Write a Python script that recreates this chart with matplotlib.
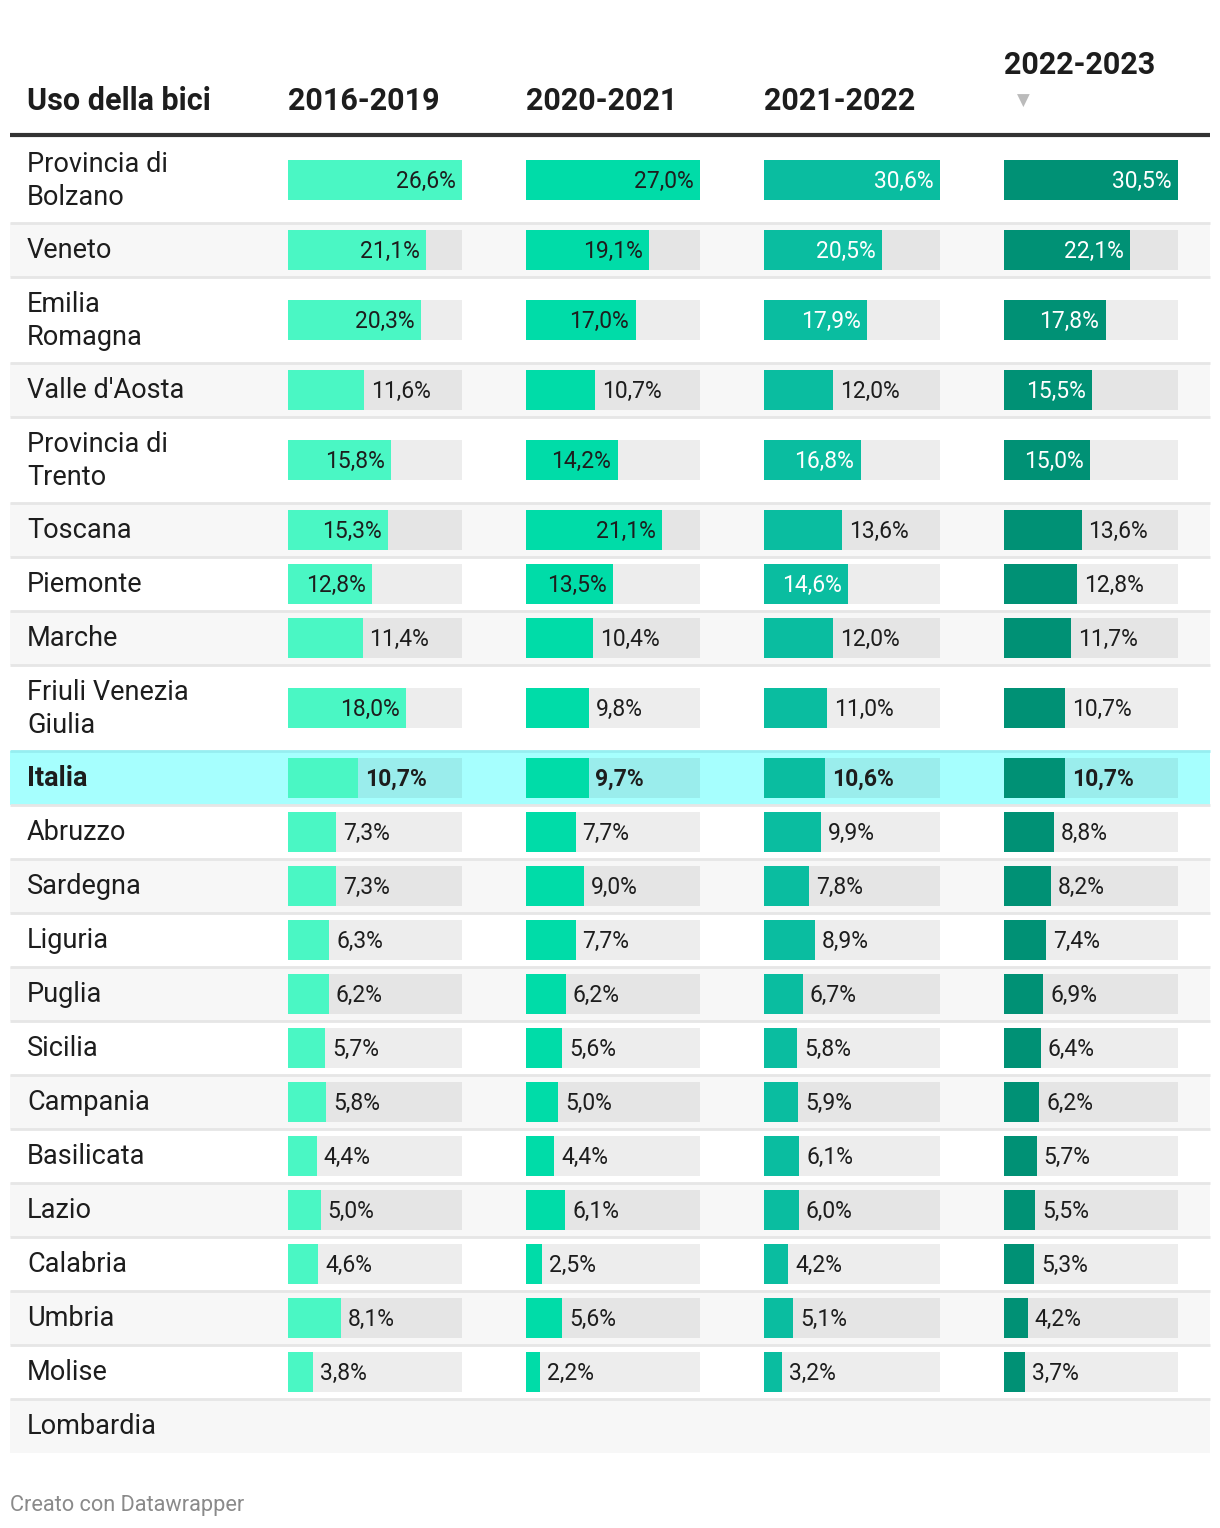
import numpy as np
import matplotlib.pyplot as plt

plt.rcParams['font.family'] = ['Roboto', 'DejaVu Sans']

# data
regions = ['Provincia di\nBolzano', 'Veneto', 'Emilia\nRomagna', "Valle d'Aosta",
           'Provincia di\nTrento', 'Toscana', 'Piemonte', 'Marche',
           'Friuli Venezia\nGiulia', 'Italia', 'Abruzzo', 'Sardegna', 'Liguria',
           'Puglia', 'Sicilia', 'Campania', 'Basilicata', 'Lazio', 'Calabria',
           'Umbria', 'Molise', 'Lombardia']
periods = ['2016-2019', '2020-2021', '2021-2022', '2022-2023']
v_2016_2019 = [26.6, 21.1, 20.3, 11.6, 15.8, 15.3, 12.8, 11.4, 18.0, 10.7, 7.3, 7.3,
               6.3, 6.2, 5.7, 5.8, 4.4, 5.0, 4.6, 8.1, 3.8, np.nan]
v_2020_2021 = [27.0, 19.1, 17.0, 10.7, 14.2, 21.1, 13.5, 10.4, 9.8, 9.7, 7.7, 9.0,
               7.7, 6.2, 5.6, 5.0, 4.4, 6.1, 2.5, 5.6, 2.2, np.nan]
v_2021_2022 = [30.6, 20.5, 17.9, 12.0, 16.8, 13.6, 14.6, 12.0, 11.0, 10.6, 9.9, 7.8,
               8.9, 6.7, 5.8, 5.9, 6.1, 6.0, 4.2, 5.1, 3.2, np.nan]
v_2022_2023 = [30.5, 22.1, 17.8, 15.5, 15.0, 13.6, 12.8, 11.7, 10.7, 10.7, 8.8, 8.2,
               7.4, 6.9, 6.4, 6.2, 5.7, 5.5, 5.3, 4.2, 3.7, np.nan]
columns = [v_2016_2019, v_2020_2021, v_2021_2022, v_2022_2023]
highlight = 'Italia'

colors = ['#4af7c4', '#00dca8', '#0abda0', '#009175']
inside_text = ['#1d1d1d', '#1d1d1d', 'white', 'white']
dark = '#1d1d1d'

W, H = 1220, 1528
fig = plt.figure(figsize=(W / 100, H / 100), dpi=100)
ax = fig.add_axes([0, 0, 1, 1])
ax.set_xlim(0, W)
ax.set_ylim(H, 0)
ax.axis('off')

# row layout (pixels)
top = 137
heights = [86 if '\n' in r else 54 for r in regions]
edges = top + np.concatenate([[0], np.cumsum(heights)])
centers = (edges[:-1] + edges[1:]) / 2

for i, r in enumerate(regions):
    bg = '#f7f7f7' if i % 2 else 'white'
    if r == highlight:
        bg = '#a6fffe'
    ax.fill_between([10, 1210], edges[i], edges[i + 1], color=bg, lw=0, zorder=0)
    if i > 0:
        lc = '#96eef0' if r == highlight else '#e6e6e6'
        ax.plot([10, 1210], [edges[i], edges[i]], color=lc, lw=2, zorder=1,
                solid_capstyle='butt')
    ax.text(27, centers[i] + 1, r, fontsize=19.5, color=dark, va='center', ha='left',
            linespacing=1.3, fontweight='bold' if r == highlight else 'normal')

# header
ax.plot([10, 1210], [135, 135], color='#333333', lw=3, zorder=2, solid_capstyle='butt')
ax.text(27, 101, 'Uso della bici', fontsize=22, fontweight='bold', color=dark, va='center')
col_x = [288, 526, 764, 1004]
for k, p in enumerate(periods):
    y = 65 if k == 3 else 101
    ax.text(col_x[k], y, p, fontsize=22, fontweight='bold', color=dark, va='center')
ax.text(1023, 101, '\u25bc', fontsize=12, color='#bbbbbb', ha='center', va='center',
        family='DejaVu Sans')

# bar columns
bar_ws = [174, 174, 176, 174]
for k, vals in enumerate(columns):
    bar_w = bar_ws[k]
    cax = fig.add_axes([col_x[k] / W, 0, bar_w / W, 1])
    vmax = np.nanmax(vals)
    cax.set_xlim(0, vmax)
    cax.set_ylim(H, 0)
    cax.axis('off')
    cax.patch.set_alpha(0)
    for i, v in enumerate(vals):
        if np.isnan(v):
            continue
        cax.barh(centers[i], vmax, height=40, color='black', alpha=0.07, lw=0)
        cax.barh(centers[i], v, height=40, color=colors[k], lw=0)
        lab = f'{v:.1f}'.replace('.', ',') + '%'
        bold = regions[i] == highlight
        if v / vmax * bar_w > 80:
            cax.annotate(lab, (v, centers[i] + 1), xytext=(-4.5, 0), textcoords='offset points',
                         ha='right', va='center', fontsize=16.5, color=inside_text[k],
                         fontweight='bold' if bold else 'normal')
        else:
            cax.annotate(lab, (v, centers[i] + 1), xytext=(5, 0), textcoords='offset points',
                         ha='left', va='center', fontsize=16.5, color=dark,
                         fontweight='bold' if bold else 'normal')

ax.text(10, 1505, 'Creato con Datawrapper', fontsize=15.7, color='#8a8a8a', va='center')

fig.savefig('out.png', dpi=100)
